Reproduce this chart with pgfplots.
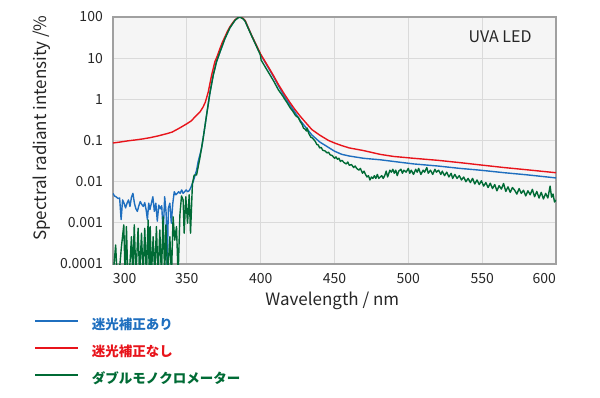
\documentclass[border=0pt]{standalone}
\usepackage{pgfplots}
\pgfplotsset{compat=1.18}
\usepackage{fontspec}
\setmainfont{Noto Sans CJK JP}
\definecolor{cblue}{HTML}{1F6FBF}
\definecolor{cred}{HTML}{E8141B}
\definecolor{cgreen}{HTML}{006B35}
\definecolor{bgc}{HTML}{F5F5F5}
\definecolor{gridc}{HTML}{DADADA}
\definecolor{axc}{HTML}{A0A0A0}
\begin{document}
\begin{tikzpicture}
\useasboundingbox (-113bp,-134bp) rectangle (487bp,264bp);
\begin{axis}[
  at={(0,0)}, anchor=south west,
  scale only axis, width=443bp, height=247bp,
  ymode=log, log basis y=10,
  xmin=300, xmax=600, ymin=1e-4, ymax=100,
  xtick={300,350,...,600},
  xticklabels={\makebox[0pt][l]{300},350,400,450,500,550,\makebox[0pt][r]{600}},
  ytick={1e-4,1e-3,1e-2,1e-1,1,10,100},
  yticklabels={0.0001,0.001,0.01,0.1,1,10,100},
  yminorticks=false,
  major tick length=0pt,
  grid=major,
  major grid style={gridc, line width=0.9bp},
  axis line style={axc, line width=1.1bp},
  axis background/.style={fill=bgc},
  tick label style={font=\fontsize{14bp}{16bp}\selectfont, text=black!85, inner sep=0pt},
  xticklabel style={anchor=north, yshift=-9bp},
  yticklabel style={anchor=east, xshift=-10bp},
  every axis x label/.style={at={(axis description cs:0.495,-0.166)}, anchor=base},
  every axis y label/.style={at={(axis description cs:-0.149,0.55)}, rotate=90, anchor=base},
  label style={font=\fontsize{17bp}{20bp}\selectfont, text=black!85},
  xlabel={Wavelength / nm},
  ylabel={Spectral radiant intensity /\%},
  legend style={at={(axis description cs:-0.178,-0.223)}, anchor=north west,
    draw=none, fill=none, inner sep=0pt, row sep=14bp, column sep=12.5bp,
    font=\fontsize{13.5bp}{16bp}\selectfont\bfseries,
    nodes={inner sep=0pt, text height=10bp, text depth=3bp}},
  legend cell align=left,
  legend image code/.code={\draw[#1, line width=2bp] (0bp,5bp) -- (43bp,5bp);},
  every axis plot/.append style={line width=1.4bp, line join=round},
]
\addplot[cblue, no marks] coordinates {
(300,0.0052)(301,0.0045)(302,0.0043)(303.5,0.0039)(304.5,0.0040)(305.5,0.0012)(306.5,0.0036)(307.5,0.0030)(308.5,0.0023)(309.5,0.0030)(310.5,0.0036)(311.5,0.0025)(312.5,0.0042)(313.5,0.0052)(314.5,0.0030)(315.5,0.0022)(316.5,0.0019)(317.5,0.0026)(318.5,0.0033)(319.5,0.0028)(320.5,0.0025)(321.5,0.0031)(322.5,0.0020)(323.3,0.0012)(324.2,0.0030)(325,0.0021)(326,0.0030)(327,0.0043)(328,0.0019)(329,0.0030)(330,0.0011)(331,0.0027)(332,0.0022)(333,0.0026)(334,0.00056)(335,0.0043)(336,0.0017)(336.7,0.00009)(337.5,0.00225)(338.5,0.0030)(339.5,0.00098)(340.5,0.0030)(341.5,0.0057)(342.5,0.0048)(343.5,0.0052)(344.5,0.0057)(345.5,0.0052)(346.5,0.0063)(347.5,0.0052)(348.5,0.0057)(349.5,0.0063)(350.5,0.0057)(351.5,0.0060)(352.5,0.0069)(354.3,0.010)(356.6,0.019)(357.7,0.031)(360,0.065)(361,0.11)(363.4,0.42)(365.6,1.4)(367.9,3.9)(370.1,8.2)(372.4,14)(375.8,30)(379.2,55)(382.6,83)(384.5,95)(386,100)(388,92)(389.5,80)(391.5,55)(394,35)(397,20.5)(400,12)(403,8.0)(406,5.2)(409,3.4)(412,2.15)(416,1.2)(420,0.72)(423.3,0.48)(427,0.30)(431,0.20)(434.6,0.137)(440,0.092)(445.9,0.068)(450,0.055)(455,0.046)(460,0.042)(469.6,0.037)(481,0.034)(490,0.031)(503.5,0.027)(520,0.024)(535,0.021)(548.8,0.019)(565,0.0165)(580,0.0147)(598.5,0.0125)(600,0.0123)
};
\addlegendentry{\textcolor{cblue}{迷光補正あり}}
\addplot[cred, no marks] coordinates {
(300,0.087)(305,0.092)(310,0.098)(315,0.103)(320,0.109)(325,0.117)(330,0.128)(336,0.145)(340,0.16)(345,0.20)(350,0.255)(353,0.30)(356,0.39)(359,0.50)(361,0.65)(362.5,0.85)(364.5,1.5)(366.8,3.9)(369,8.2)(370.5,11)(372.4,17)(374,24)(375.8,33)(377.5,45)(379.2,58)(381,72)(382.6,85)(384.5,96)(386,100)(388,93)(389.5,82)(391.5,56)(394,35)(397,21)(400,12.5)(403,8.3)(406,5.5)(409,3.6)(412,2.3)(416,1.35)(420,0.82)(423.3,0.56)(427,0.38)(431,0.26)(434.6,0.185)(440,0.135)(446,0.10)(450,0.087)(455,0.075)(460,0.066)(469.6,0.057)(481,0.046)(490,0.041)(503.5,0.037)(520,0.033)(535,0.029)(548.8,0.0255)(565,0.022)(580,0.0195)(598.5,0.0167)(600,0.0165)
};
\addlegendentry{\textcolor{cred}{迷光補正なし}}
\addplot[cgreen, no marks] coordinates {
(300,0.00005)(301.8,0.00029)(302.8,0.00005)(304,0.00005)(305.7,0.00026)(307.3,0.00089)(308.2,0.00005)(309.1,0.00081)(310,0.00005)(311,0.00005)(312.5,0.00046)(313.4,0.00005)(314.4,0.00089)(315.5,0.00005)(317,0.00074)(318,0.00005)(319.3,0.00056)(320.4,0.00005)(321.5,0.00074)(322.6,0.00005)(323.8,0.00117)(324.6,0.00005)(325.2,0.00081)(326,0.00005)(327.2,0.00046)(328.3,0.00005)(329.4,0.00081)(330.5,0.00005)(331.7,0.00067)(332.8,0.00005)(333.9,0.0014)(335,0.00005)(335.8,0.00089)(337,0.00005)(338.5,0.00046)(339.6,0.00005)(340.7,0.0014)(341.8,0.00038)(343,0.00081)(344.1,0.00005)(345.3,0.00155)(346.4,0.0045)(347.5,0.0036)(348.2,0.00056)(349.3,0.0043)(350.5,0.00098)(351.6,0.0048)(352.5,0.00056)(353.8,0.0091)(355,0.0145)(356.6,0.0145)(358.8,0.037)(361,0.11)(363.4,0.42)(365.6,1.4)(367.9,3.9)(370.1,8.2)(372.4,14)(375.8,30)(379.2,55)(382.6,83)(384.5,95)(386,99)(388,91)(389.5,79)(391.5,54)(394,34)(397,20)(399.8,12)(400.3,9.0)(403,6.2)(406,4.1)(409,2.7)(412,1.7)(414,1.35)(415,1.2)(416,1.05)(418,0.82)(420,0.62)(421,0.56)(422,0.50)(423.3,0.42)(424.5,0.38)(425.5,0.36)(427,0.28)(428,0.25)(429,0.20)(430,0.19)(431,0.17)(431.5,0.20)(432.5,0.15)(434,0.12)(435,0.115)(436,0.105)(437,0.095)(438,0.08)(439,0.078)(440,0.066)(441,0.068)(442,0.058)(443.5,0.056)(445,0.050)(446,0.052)(447,0.045)(448.5,0.043)(450,0.037)(451,0.040)(452,0.035)(453,0.037)(454,0.031)(455,0.033)(456.5,0.029)(458,0.027)(459,0.030)(460,0.025)(461.5,0.026)(463,0.022)(464,0.024)(465,0.021)(466.5,0.019)(467.5,0.021)(469,0.016)(470,0.018)(471,0.015)(472,0.013)(473,0.014)(474,0.011)(475,0.013)(476,0.012)(477,0.014)(478,0.012)(479,0.015)(480,0.012)(481,0.013)(482,0.014)(483,0.012)(484,0.014)(485,0.018)(486,0.013)(487.5,0.019)(488.5,0.017)(489.5,0.020)(490.5,0.016)(491.5,0.019)(492.5,0.014)(493.5,0.018)(495,0.020)(496,0.016)(497,0.019)(498.5,0.017)(500,0.021)(501,0.016)(502,0.019)(503.5,0.015)(505,0.020)(506,0.017)(507,0.021)(508.5,0.015)(510,0.019)(511,0.017)(512.5,0.022)(513.5,0.016)(515,0.019)(516.5,0.015)(518,0.020)(519,0.017)(520.5,0.019)(522,0.015)(523,0.018)(524.5,0.014)(526,0.017)(527.5,0.013)(529,0.016)(530,0.012)(531.5,0.015)(533,0.012)(534.5,0.014)(536,0.011)(537.5,0.013)(539,0.010)(540.5,0.012)(542,0.0095)(543.5,0.012)(545,0.0088)(546.5,0.011)(548,0.0085)(549.5,0.0105)(551,0.0078)(552.5,0.0095)(554,0.0072)(555.5,0.0092)(557,0.0068)(558.5,0.0085)(560,0.0060)(561.5,0.0080)(563,0.0066)(564.5,0.0090)(566,0.0058)(567.5,0.0075)(569,0.0055)(570.5,0.0072)(572,0.0062)(573.5,0.0050)(575,0.0068)(576.5,0.0052)(578,0.0062)(579.5,0.0045)(581,0.0060)(582.5,0.0048)(584,0.0065)(585.5,0.0043)(587,0.0058)(588.5,0.0040)(590,0.0055)(591.5,0.0038)(593,0.0052)(594.5,0.0040)(596,0.0078)(597,0.0042)(598,0.0050)(599,0.0032)(600,0.0036)
};
\addlegendentry{\textcolor{cgreen}{ダブルモノクロメーター}}
\node[anchor=base, font=\fontsize{16bp}{18bp}\selectfont, text=black!85] at (rel axis cs:0.874,0.896) {UVA LED};
\end{axis}
\end{tikzpicture}
\end{document}
